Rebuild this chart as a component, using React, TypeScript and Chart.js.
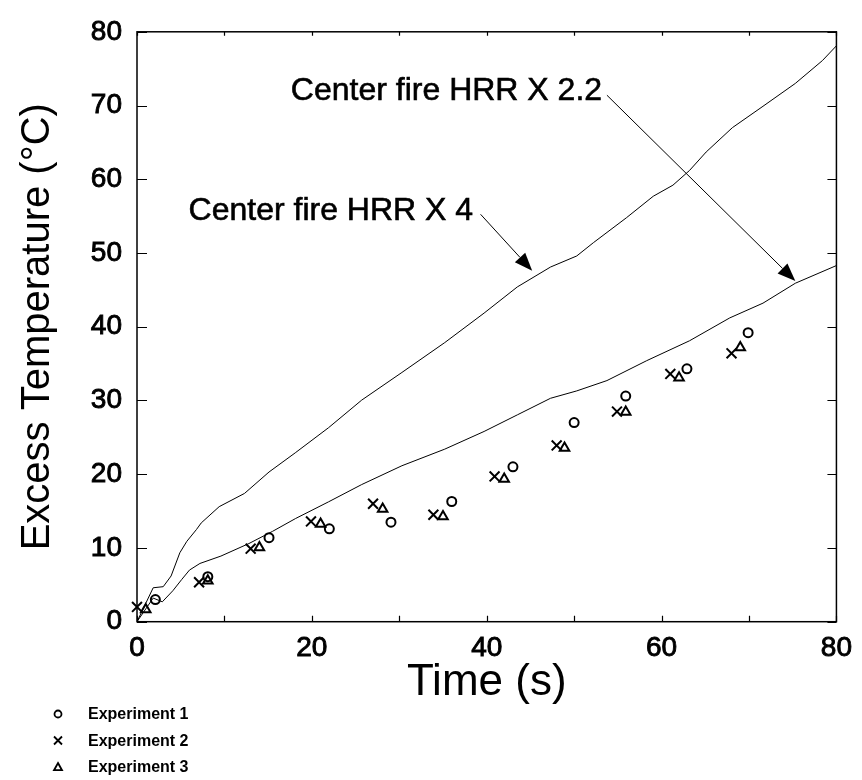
import React, { useEffect, useRef } from 'react';
import { Chart, registerables } from 'chart.js';

Chart.register(...registerables);

const FONT = '"Liberation Sans", Arial, Helvetica, sans-serif';

// Simulation curves
const hrr4X = [0, 1.85, 3.0, 3.9, 4.9, 5.7, 6.8, 7.35, 9.4, 12.3, 15.1, 18.1, 21.9, 25.7, 30.3, 35.2, 39.7, 43.5, 47.3, 50.3, 52.2, 56.0, 59.05, 61.3, 63.2, 65.1, 68.1, 71.6, 75.3, 78.4, 80];
const hrr4Y = [0, 4.6, 4.75, 6.2, 9.35, 10.9, 12.5, 13.4, 15.6, 17.4, 20.3, 22.9, 26.3, 30.05, 33.8, 37.85, 41.85, 45.4, 48.1, 49.6, 51.4, 54.8, 57.7, 59.2, 61.2, 63.7, 67.0, 69.9, 73.0, 76.1, 78.1];

const hrr22X = [0, 1.85, 2.9, 4.1, 5.1, 6.0, 7.2, 9.6, 12.8, 15.5, 18.15, 21.9, 25.7, 30.3, 35.2, 39.7, 43.5, 47.3, 50.3, 53.75, 58.3, 63.2, 67.8, 71.6, 75.3, 80];
const hrr22Y = [0, 3.2, 2.7, 4.2, 5.7, 7.0, 7.9, 8.9, 10.6, 12.25, 14.0, 16.25, 18.6, 21.15, 23.4, 25.8, 28.05, 30.3, 31.3, 32.7, 35.4, 38.1, 41.2, 43.2, 45.9, 48.3];

// Experiments
const exp1X = [2.1, 8.1, 15.1, 22.0, 29.05, 36.0, 43.0, 50.0, 55.9, 62.9, 69.9];
const exp1Y = [3.0, 6.1, 11.4, 12.6, 13.5, 16.3, 21.0, 27.0, 30.6, 34.3, 39.2];
const exp2X = [0, 7.1, 13.0, 19.9, 27.0, 33.9, 40.9, 48.0, 54.9, 61.0, 68.0];
const exp2Y = [2.0, 5.35, 9.9, 13.6, 16.0, 14.5, 19.7, 23.9, 28.5, 33.6, 36.4];
const exp3X = [1.0, 8.1, 14.0, 21.0, 28.1, 35.0, 42.0, 48.9, 55.9, 62.0, 69.0];
const exp3Y = [1.65, 5.55, 10.05, 13.25, 15.3, 14.25, 19.35, 23.55, 28.45, 33.1, 37.2];

const xTickLabels = [0, 20, 40, 60, 80];
const legendLabels = ['Experiment 1', 'Experiment 2', 'Experiment 3'];
const legendStyles = ['circle', 'crossRot', 'triangle'];

// Annotations (data coordinates)
const annoTexts = ['Center fire HRR X 2.2', 'Center fire HRR X 4'];
const annoTextPos = [[17.6, 71.95], [5.9, 55.65]];
const arrowFrom = [[53.75, 71.4], [39.3, 55.25]];
const arrowTo = [[75.3, 46.2], [45.2, 47.6]];

const zip = (xs: number[], ys: number[]) => xs.map((x, i) => ({ x, y: ys[i] }));

function drawSymbol(ctx: CanvasRenderingContext2D, style: string, cx: number, cy: number, r: number) {
  ctx.beginPath();
  if (style === 'circle') {
    ctx.arc(cx, cy, r, 0, Math.PI * 2);
  } else if (style === 'crossRot') {
    ctx.moveTo(cx - r, cy - r); ctx.lineTo(cx + r, cy + r);
    ctx.moveTo(cx + r, cy - r); ctx.lineTo(cx - r, cy + r);
  } else {
    ctx.moveTo(cx, cy - r); ctx.lineTo(cx + r, cy + r * 0.8); ctx.lineTo(cx - r, cy + r * 0.8); ctx.closePath();
  }
  ctx.stroke();
}

const framePlugin = {
  id: 'frame',
  afterDraw(chart: any) {
    const { ctx, chartArea: a, scales } = chart;
    const xs = scales.x, ys = scales.y;
    ctx.save();
    ctx.strokeStyle = '#000';
    ctx.fillStyle = '#000';
    ctx.lineWidth = 1.5;
    ctx.strokeRect(a.left, a.top, a.right - a.left, a.bottom - a.top);
    ctx.lineWidth = 1.2;
    ctx.beginPath();
    xs.ticks.forEach((t: any) => {
      const px = Math.round(xs.getPixelForValue(t.value)) + 0.5;
      ctx.moveTo(px, a.bottom); ctx.lineTo(px, a.bottom - 6);
      ctx.moveTo(px, a.top); ctx.lineTo(px, a.top + 4);
    });
    ys.ticks.forEach((t: any) => {
      const py = Math.round(ys.getPixelForValue(t.value)) + 0.5;
      ctx.moveTo(a.left, py); ctx.lineTo(a.left + 10, py);
      ctx.moveTo(a.right, py); ctx.lineTo(a.right - 9, py);
    });
    ctx.stroke();

    // annotation texts
    ctx.font = `32px ${FONT}`;
    ctx.textAlign = 'left';
    ctx.textBaseline = 'middle';
    annoTexts.forEach((txt, i) => {
      const tx = xs.getPixelForValue(annoTextPos[i][0]);
      const ty = ys.getPixelForValue(annoTextPos[i][1]);
      ctx.fillText(txt, tx, ty);
      ctx.lineWidth = 0.6;
      ctx.strokeText(txt, tx, ty);
    });
    // arrows
    ctx.lineWidth = 1;
    arrowFrom.forEach((f, i) => {
      const x1 = xs.getPixelForValue(f[0]), y1 = ys.getPixelForValue(f[1]);
      const x2 = xs.getPixelForValue(arrowTo[i][0]), y2 = ys.getPixelForValue(arrowTo[i][1]);
      const ang = Math.atan2(y2 - y1, x2 - x1);
      const L = 18, W = 7;
      const bx = x2 - L * Math.cos(ang), by = y2 - L * Math.sin(ang);
      ctx.beginPath(); ctx.moveTo(x1, y1); ctx.lineTo(bx, by); ctx.stroke();
      ctx.beginPath();
      ctx.moveTo(x2, y2);
      ctx.lineTo(bx + W * Math.sin(ang), by - W * Math.cos(ang));
      ctx.lineTo(bx - W * Math.sin(ang), by + W * Math.cos(ang));
      ctx.closePath(); ctx.fill();
    });

    // legend (below the x axis title)
    const legTop = chart.height - 66;
    ctx.font = `bold 16px ${FONT}`;
    ctx.textAlign = 'left';
    ctx.textBaseline = 'middle';
    ctx.lineWidth = 1.8;
    legendLabels.forEach((lbl, i) => {
      const cy = legTop + i * 26.5;
      drawSymbol(ctx, legendStyles[i], 58, cy, legendStyles[i] === 'circle' ? 3.5 : 4);
      ctx.fillText(lbl, 88, cy + 1);
    });
    ctx.restore();
  },
};

export default function App() {
  const ref = useRef<HTMLCanvasElement>(null);
  useEffect(() => {
    if (!ref.current) return;
    const pointDs = (label: string, xs: number[], ys: number[], style: string, r: number) => ({
      label,
      data: zip(xs, ys),
      showLine: false,
      pointStyle: style,
      pointRadius: r,
      pointBorderWidth: 2,
      pointBorderColor: '#000',
      pointBackgroundColor: 'rgba(0,0,0,0)',
      borderColor: '#000',
      clip: false,
    });
    const lineDs = (label: string, xs: number[], ys: number[]) => ({
      label,
      data: zip(xs, ys),
      showLine: true,
      borderColor: '#000',
      borderWidth: 1,
      pointRadius: 0,
      tension: 0,
      fill: false,
    });
    const tickFont = { family: FONT, size: 28 };
    const chart = new Chart(ref.current, {
      type: 'scatter',
      data: {
        datasets: [
          lineDs('Center fire HRR X 4', hrr4X, hrr4Y),
          lineDs('Center fire HRR X 2.2', hrr22X, hrr22Y),
          pointDs('Experiment 1', exp1X, exp1Y, 'circle', 4.5),
          pointDs('Experiment 2', exp2X, exp2Y, 'crossRot', 7),
          pointDs('Experiment 3', exp3X, exp3Y, 'triangle', 5.5),
        ] as any,
      },
      options: {
        animation: false,
        responsive: false,
        layout: { padding: { left: 18, right: 22, top: 22.7, bottom: 75 } },
        plugins: { legend: { display: false }, tooltip: { enabled: false } },
        scales: {
          x: {
            type: 'linear',
            min: 0,
            max: 80,
            grid: { display: false, drawTicks: false },
            border: { display: false },
            ticks: {
              stepSize: 10,
              autoSkip: false,
              maxRotation: 0,
              padding: 10,
              color: '#000',
              textStrokeColor: '#000',
              textStrokeWidth: 0.9,
              font: tickFont,
              callback: (v: any) => (xTickLabels.includes(Number(v)) ? String(v) : ''),
            },
            title: {
              display: true,
              text: 'Time (s)',
              color: '#000',
              padding: 0,
              font: { family: FONT, size: 44, lineHeight: 1 },
            },
            afterFit: (s: any) => { s.height = 83.3; },
          },
          y: {
            type: 'linear',
            min: 0,
            max: 80,
            grid: { display: false, drawTicks: false },
            border: { display: false },
            ticks: {
              stepSize: 10,
              padding: 15,
              color: '#000',
              textStrokeColor: '#000',
              textStrokeWidth: 0.9,
              font: tickFont,
            },
            title: {
              display: true,
              text: 'Excess Temperature (°C)',
              color: '#000',
              padding: 0,
              font: { family: FONT, size: 40, lineHeight: 1 },
            },
            afterFit: (s: any) => { s.width = 119; },
          },
        },
      } as any,
      plugins: [framePlugin],
    });
    return () => chart.destroy();
  }, []);
  return (
    <div style={{ position: 'absolute', left: 0, top: 0, width: 862, height: 780, background: '#fff' }}>
      <canvas ref={ref} width={862} height={780} />
    </div>
  );
}
